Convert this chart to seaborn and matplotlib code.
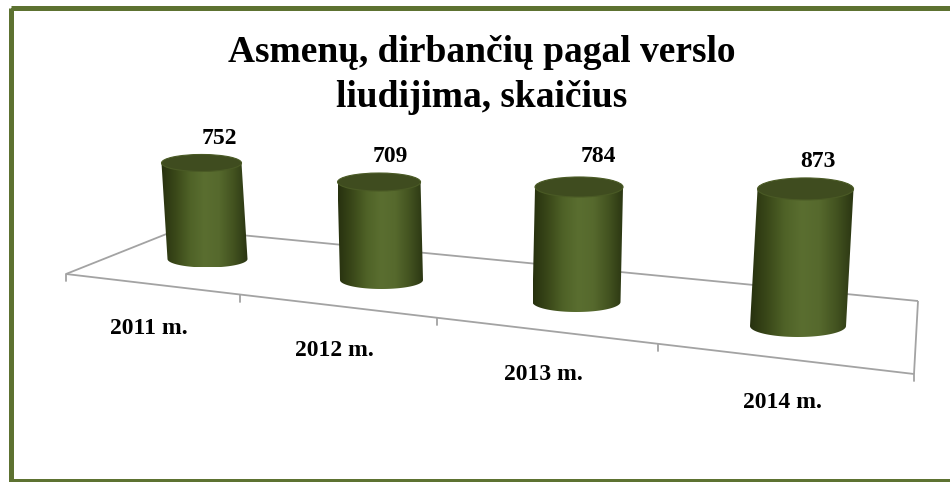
import numpy as np
import matplotlib
matplotlib.use("Agg")
import matplotlib.pyplot as plt
import seaborn as sns
from matplotlib.patches import Polygon, Ellipse, Rectangle

# ---------------- data ----------------
categories = ["2011 m.", "2012 m.", "2013 m.", "2014 m."]
values = [752, 709, 784, 873]
title_lines = ["Asmenų, dirbančių pagal verslo", "liudijima, skaičius"]

# ---------------- layout (pseudo-3D perspective, in pixels) ----------------
BASE_X = [207.5, 381.5, 576.5, 798.0]   # bottom-ellipse centre x
BASE_Y = [259.0, 280.0, 302.0, 326.0]   # bottom-ellipse centre y
RX = [40.0, 41.5, 44.0, 48.0]
RY = [8.5, 9.0, 10.0, 11.0]
SCALE = [0.1277, 0.1382, 0.1467, 0.157]  # px per unit (perspective)
LEAN = [-0.0625, -0.025, 0.022, 0.055]   # horizontal drift per px of height
LABEL_DX = [18, 11, 19, 12]
LABEL_DY = [10, 11, 15, 11]

FLOOR = [(66, 274), (179, 229), (918, 301), (914, 374)]  # FL, BL, BR, FR
TICK_X = [66, 240, 437, 658, 914]

sns.set_theme(style="white")
plt.rcParams["font.family"] = ["Liberation Serif", "DejaVu Serif"]

W, H = 950, 482
fig = plt.figure(figsize=(9.5, 4.82), dpi=100)
ax = fig.add_axes([0, 0, 1, 1])
ax.set_xlim(0, W)
ax.set_ylim(H, 0)
ax.axis("off")

# frame
ax.add_patch(Rectangle((10.5, 8), 960, 473, fill=False, lw=3.6,
                       edgecolor="#5d7231", zorder=1, clip_on=False))

# title
ax.text(482, 62, title_lines[0], ha="center", va="baseline",
        fontsize=27, fontweight="bold", color="black")
ax.text(482, 107, title_lines[1], ha="center", va="baseline",
        fontsize=27, fontweight="bold", color="black")

# floor
fl, bl, br, fr = FLOOR
gcol = "#a3a3a3"
for p, q in [(fl, bl), (bl, br), (br, fr), (fl, fr)]:
    ax.plot([p[0], q[0]], [p[1], q[1]], color=gcol, lw=1.3, zorder=2,
            solid_capstyle="butt")


def front_y(x):
    return fl[1] + (fr[1] - fl[1]) * (x - fl[0]) / (fr[0] - fl[0])


for tx in TICK_X:
    y0 = front_y(tx)
    ax.plot([tx, tx], [y0, y0 + 7], color=gcol, lw=1.3, zorder=2)

# category labels
for i, cat in enumerate(categories):
    mx = (TICK_X[i] + TICK_X[i + 1]) / 2 - 4
    ax.text(mx, front_y(mx) + 50, cat, ha="center", va="baseline",
            fontsize=17, fontweight="bold", color="black")

# cylinders
cmap = sns.blend_palette(["#27310f", "#3a4819", "#4f6227", "#5a6e30",
                          "#56692d", "#435320", "#2a3512"], as_cmap=True)
grad = np.linspace(0, 1, 256)[None, :]

for i, v in enumerate(values):
    bx, by = BASE_X[i], BASE_Y[i]
    h = v * SCALE[i]
    tx, ty = bx + LEAN[i] * h, by - h
    rx, ry = RX[i], RY[i]
    t = np.linspace(0, np.pi, 60)
    ex = bx - rx * np.cos(t)
    ey = by + ry * np.sin(t)
    pts = [(tx - rx, ty)] + list(zip(ex, ey)) + [(tx + rx, ty)]
    body = Polygon(pts, closed=True, facecolor="none", edgecolor="none",
                   zorder=3)
    ax.add_patch(body)
    xmin = min(tx, bx) - rx
    xmax = max(tx, bx) + rx
    im = ax.imshow(grad, cmap=cmap, extent=(xmin, xmax, by + ry, ty),
                   aspect="auto", interpolation="bicubic", zorder=3)
    im.set_clip_path(body)
    ax.add_patch(Ellipse((tx, ty), 2 * rx, 2 * ry, facecolor="#3f4c1f",
                         edgecolor="#4a5a25", lw=0.8, zorder=4))
    ax.text(tx + LABEL_DX[i], ty - ry - LABEL_DY[i], f"{v}", ha="center",
            va="baseline", fontsize=17, fontweight="bold", color="black",
            zorder=5)

ax.set_xlim(0, W)
ax.set_ylim(H, 0)
sns.despine(ax=ax, left=True, bottom=True)
fig.savefig("out.png", dpi=100, facecolor="white")
